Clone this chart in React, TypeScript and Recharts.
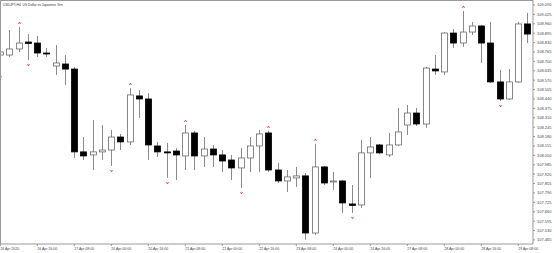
import { ComposedChart, Bar, XAxis, YAxis } from "recharts";

// USDJPY H4 candles
const open = [
  108.744, 108.744, 108.786, 108.834, 108.827, 108.758, 108.668, 108.682, 108.647, 108.074,
  108.053, 108.074, 108.087, 108.177, 108.143, 108.461, 108.44, 108.115, 108.074, 108.08,
  108.046, 108.205, 108.046, 108.094, 108.053, 108.018, 107.963, 108.032, 108.115, 108.205,
  107.949, 107.873, 107.894, 107.908, 107.513, 107.97, 107.866, 107.873, 107.714, 107.707,
  108.067, 108.122, 108.053, 108.122, 108.26, 108.343, 108.267, 108.647, 108.627, 108.896,
  108.827, 108.903, 108.945, 108.827, 108.558, 108.44, 108.558, 108.959,
];
const high = [
  108.82, 108.917, 108.938, 108.889, 108.876, 108.793, 108.813, 108.744, 108.661, 108.177,
  108.295, 108.26, 108.226, 108.198, 108.516, 108.502, 108.481, 108.143, 108.136, 108.101,
  108.26, 108.219, 108.177, 108.122, 108.087, 108.053, 108.101, 108.177, 108.226, 108.219,
  107.998, 107.949, 107.97, 107.928, 108.129, 107.977, 107.935, 107.88, 107.845, 108.157,
  108.177, 108.129, 108.205, 108.378, 108.399, 108.378, 108.661, 108.744, 108.903, 108.924,
  109.049, 108.972, 108.952, 108.972, 108.641, 108.647, 108.972, 109.035,
];
const low = [
  108.627, 108.73, 108.765, 108.71, 108.73, 108.73, 108.606, 108.537, 108.032, 108.018,
  107.949, 108.018, 107.977, 108.087, 108.122, 108.309, 108.018, 108.039, 107.894, 107.88,
  107.949, 107.949, 107.97, 107.97, 107.935, 107.88, 107.825, 107.935, 107.935, 107.935,
  107.859, 107.797, 107.832, 107.467, 107.5, 107.845, 107.811, 107.652, 107.652, 107.686,
  107.894, 108.06, 108.039, 108.115, 108.191, 108.253, 108.24, 108.606, 108.606, 108.793,
  108.8, 108.883, 108.689, 108.551, 108.426, 108.433, 108.551, 108.827,
];
const close = [
  108.765, 108.786, 108.827, 108.824, 108.758, 108.757, 108.689, 108.647, 108.074, 108.046,
  108.074, 108.087, 108.177, 108.143, 108.468, 108.44, 108.122, 108.074, 108.07, 108.053,
  108.205, 108.046, 108.094, 108.053, 108.011, 107.963, 108.032, 108.115, 108.198, 107.949,
  107.873, 107.901, 107.908, 107.513, 107.97, 107.859, 107.873, 107.721, 107.704, 108.067,
  108.108, 108.067, 108.122, 108.212, 108.343, 108.267, 108.654, 108.634, 108.896, 108.827,
  108.903, 108.945, 108.827, 108.558, 108.44, 108.558, 108.959, 108.889,
];

// fractal marks (bar indexes)
const upFractals = [2, 14, 20, 29, 34, 50];
const downFractals = [0, 3, 12, 18, 26, 33, 38, 54];

const timeLabels = [
  "16 Apr 2020", "16 Apr 16:00", "17 Apr 08:00", "20 Apr 00:00", "20 Apr 16:00",
  "21 Apr 08:00", "22 Apr 00:00", "22 Apr 16:00", "23 Apr 08:00", "24 Apr 00:00",
  "24 Apr 16:00", "27 Apr 08:00", "28 Apr 00:00", "28 Apr 16:00", "29 Apr 08:00",
];
const timeTicks = [0, 4, 8, 12, 16, 20, 24, 28, 32, 36, 40, 44, 48, 52, 56];

const priceTicks = [
  109.09, 109.025, 108.96, 108.895, 108.83, 108.765, 108.7, 108.635, 108.57, 108.505,
  108.44, 108.375, 108.31, 108.245, 108.18, 108.115, 108.05, 107.985, 107.92, 107.855,
  107.79, 107.725, 107.66, 107.595, 107.53, 107.465,
];

const data = open.map((o, i) => ({
  i,
  open: o,
  high: high[i],
  low: low[i],
  close: close[i],
}));

const Candle = (props: any) => {
  const { x, y, width, height, payload } = props;
  const { open, high, low, close, i } = payload;
  const cx = Math.round(x + width / 2) + 0.5;
  const py = (v: number) => y + ((high - v) / (high - low || 1)) * height;
  const bull = close >= open;
  const top = py(Math.max(open, close));
  const bot = py(Math.min(open, close));
  const bh = Math.max(bot - top, 1);
  return (
    <g>
      <line x1={cx} x2={cx} y1={y} y2={y + height} stroke="#8a8a8a" strokeWidth={1} />
      <rect
        x={cx - 3}
        y={top}
        width={6}
        height={bh}
        fill={bull ? "#fff" : "#000"}
        stroke={bull ? "#6a6a6a" : "#000"}
        strokeWidth={0.8}
      />
      {upFractals.includes(i) && (
        <path d={`M${cx - 1},${y - 3} L${cx},${y - 5} L${cx + 1},${y - 3}`} stroke="#e03030" strokeWidth={0.8} fill="none" />
      )}
      {downFractals.includes(i) && (
        <path d={`M${cx - 1},${y + height + 4} L${cx},${y + height + 6} L${cx + 1},${y + height + 4}`} stroke="#e03030" strokeWidth={0.8} fill="none" />
      )}
    </g>
  );
};

export default function App() {
  return (
    <div style={{ position: "absolute", left: 0, top: 0, width: 554, height: 253, background: "#fff" }}>
      <ComposedChart width={554} height={253} data={data} margin={{ top: 0, right: 0, bottom: 0, left: 0 }}>
        <XAxis
          type="number"
          dataKey="i"
          domain={[-0.032, 57.59]}
          allowDataOverflow
          ticks={timeTicks}
          interval={0}
          tickFormatter={(v: number) => timeLabels[v / 4]}
          height={9}
          tickSize={2}
          stroke="#9a9a9a"
          tick={{ fontSize: 3.5, fill: "#444", textAnchor: "start", fontFamily: "Liberation Sans" }}
        />
        <YAxis
          orientation="right"
          type="number"
          domain={[107.437, 109.1246]}
          allowDataOverflow
          ticks={priceTicks}
          interval={0}
          tickFormatter={(v: number) => v.toFixed(3)}
          width={21}
          tickSize={2}
          stroke="#9a9a9a"
          tick={{ fontSize: 4, fill: "#444", fontFamily: "Liberation Sans" }}
        />
        <Bar dataKey={(d: any) => [d.low, d.high]} shape={Candle} isAnimationActive={false} />
      </ComposedChart>
      <div style={{ position: "absolute", left: 0, top: 0, width: 533, height: 1, background: "#9a9a9a" }} />
      <div style={{ position: "absolute", left: 0, top: 0, width: 1, height: 244, background: "#9a9a9a" }} />
      <div
        style={{
          position: "absolute",
          left: 3,
          top: 3,
          fontSize: 3.3,
          color: "#333",
          fontFamily: "Liberation Sans",
          whiteSpace: "nowrap",
        }}
      >
        USDJPY,H4&nbsp;&nbsp;US Dollar vs Japanese Yen
      </div>
    </div>
  );
}
